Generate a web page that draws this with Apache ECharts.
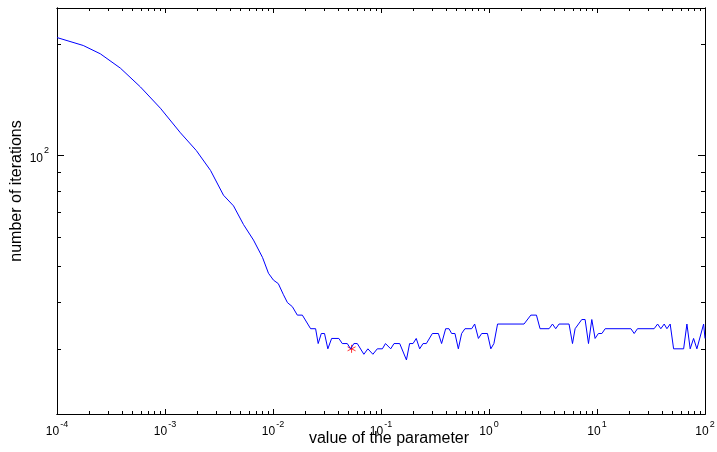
<!DOCTYPE html>
<html>
<head>
<meta charset="utf-8">
<script src="https://cdn.jsdelivr.net/npm/echarts@6/dist/echarts.min.js"></script>
<style>
  html, body { margin: 0; padding: 0; background: #fff; }
  #chart { width: 717px; height: 452px; }
</style>
</head>
<body>
<div id="chart"></div>
<script>
// parameter values (x) and iteration counts (y)
const paramValues = [
  1.00e-4, 1.75e-4, 2.52e-4, 3.86e-4, 5.92e-4, 9.07e-4, 1.39e-3, 1.95e-3, 2.64e-3, 3.48e-3,
  4.31e-3, 5.33e-3, 6.60e-3, 7.99e-3, 9.08e-3, 1.01e-2, 1.12e-2, 1.25e-2, 1.36e-2, 1.51e-2,
  1.68e-2, 1.87e-2, 2.23e-2, 2.48e-2, 2.62e-2, 2.80e-2, 3.00e-2, 3.22e-2, 3.49e-2, 4.07e-2,
  4.38e-2, 4.87e-2, 5.23e-2, 5.61e-2, 6.03e-2, 6.94e-2, 7.56e-2, 8.41e-2, 9.24e-2, 0.103,
  0.110, 0.123, 0.132, 0.149, 0.172, 0.184, 0.198, 0.212, 0.228, 0.245,
  0.263, 0.299, 0.340, 0.364, 0.397, 0.426, 0.451, 0.484, 0.520, 0.558,
  0.599, 0.691, 0.737, 0.798, 0.856, 0.967, 1.04, 1.11, 1.20, 2.11,
  2.44, 2.75, 2.97, 3.60, 3.87, 4.15, 4.45, 5.51, 5.93, 6.27,
  7.23, 7.76, 8.34, 8.95, 9.60, 10.3, 11.1, 11.9, 20.6, 22.1,
  23.7, 33.8, 36.4, 39.0, 41.9, 44.4, 47.6, 51.2, 63.4, 68.0,
  72.9, 78.4, 84.1, 97.1, 100
]
const iterations = [
  208, 198, 188, 172, 153, 134, 115, 103, 91, 78,
  73, 65, 59, 53, 48, 46, 45, 42, 40, 39,
  37, 37, 34, 34, 31, 33, 33, 30, 32, 32,
  31, 31, 30, 31, 31, 29, 30, 29, 30, 30,
  31, 30, 31, 31, 28, 31, 31, 32, 30, 31,
  31, 33, 33, 31, 34, 34, 33, 33, 30, 33,
  34, 34, 35, 32, 33, 33, 30, 31, 35, 35,
  37, 37, 34, 34, 35, 34, 35, 35, 31, 34,
  36, 36, 31, 36, 32, 33, 33, 34, 34, 33,
  34, 34, 35, 34, 35, 34, 35, 30, 30, 35,
  30, 32, 30, 35, 32
]
// the marked optimum
const bestParam = [0.0534]
const bestIterations = [30]

// ticks
const xMajorTicks = [1e-4, 1e-3, 1e-2, 1e-1, 1, 10, 100]
const yMajorTicks = [100]
const yMinorTicks = [30, 40, 50, 60, 70, 80, 90, 200]
const xMinorTicks = []
xMajorTicks.slice(0, -1).forEach(d => {
  for (let k = 2; k <= 9; k++) xMinorTicks.push(d * k)
})

const font = 'Liberation Sans, Arial, sans-serif'
const powLabel = {
  formatter: v => '{b|10}{e|' + Math.round(Math.log10(v)) + '}',
  rich: {
    b: { fontSize: 12, fontFamily: font, color: '#000', verticalAlign: 'bottom' },
    e: { fontSize: 9, fontFamily: font, color: '#000', verticalAlign: 'top', padding: [0, 0, 9, 1] }
  }
}

function makeX (position, ticks, len, withLabels) {
  return {
    type: 'log',
    logBase: 10,
    min: 1e-4,
    max: 100,
    position: position,
    axisLine: { show: true, onZero: false, lineStyle: { color: '#000', width: 1 } },
    axisTick: { show: true, inside: true, length: len, customValues: ticks, lineStyle: { color: '#000' } },
    axisLabel: Object.assign({ show: withLabels, margin: 6, customValues: xMajorTicks }, powLabel),
    splitLine: { show: false },
    minorTick: { show: false },
    name: withLabels ? 'value of the parameter' : '',
    nameLocation: 'middle',
    nameGap: 17,
    nameMoveOverlap: false,
    nameTextStyle: { fontSize: 16, fontFamily: font, color: '#000', padding: [0, 0, 0, 16] }
  }
}

function makeY (position, ticks, len, withLabels) {
  return {
    type: 'log',
    logBase: 10,
    min: 20,
    max: 250,
    position: position,
    axisLine: { show: true, onZero: false, lineStyle: { color: '#000', width: 1 } },
    axisTick: { show: true, inside: true, length: len, customValues: ticks, lineStyle: { color: '#000' } },
    axisLabel: Object.assign({ show: withLabels, margin: 8, customValues: yMajorTicks }, powLabel),
    splitLine: { show: false },
    minorTick: { show: false },
    name: withLabels ? 'number of iterations' : '',
    nameLocation: 'middle',
    nameRotate: 90,
    nameGap: 32,
    nameMoveOverlap: false,
    nameTextStyle: { fontSize: 16, fontFamily: font, color: '#000', padding: [0, 0, 0, 40] }
  }
}

const chart = echarts.init(document.getElementById('chart'))
chart.setOption({
  animation: false,
  backgroundColor: '#fff',
  grid: { left: 57, right: 12, top: 8, bottom: 38, containLabel: false, outerBoundsMode: 'none' },
  xAxis: [
    makeX('bottom', xMajorTicks, 5, true),
    makeX('top', xMajorTicks, 5, false),
    makeX('bottom', xMinorTicks, 3, false),
    makeX('top', xMinorTicks, 3, false)
  ],
  yAxis: [
    makeY('left', yMajorTicks, 7, true),
    makeY('right', yMajorTicks, 7, false),
    makeY('left', yMinorTicks, 4, false),
    makeY('right', yMinorTicks, 4, false)
  ],
  series: [
    {
      type: 'line',
      xAxisIndex: 0,
      yAxisIndex: 0,
      data: paramValues.map((x, i) => [x, iterations[i]]),
      showSymbol: false,
      lineStyle: { color: '#0000ff', width: 1 },
      itemStyle: { color: '#0000ff' }
    },
    {
      type: 'scatter',
      xAxisIndex: 0,
      yAxisIndex: 0,
      data: bestParam.map((x, i) => [x, bestIterations[i]]),
      symbol: 'path://M0,-5L0,5M-4.33,-2.5L4.33,2.5M-4.33,2.5L4.33,-2.5',
      symbolSize: 8,
      itemStyle: { color: 'none', borderColor: '#ff0000', borderWidth: 1 }
    }
  ]
})
</script>
</body>
</html>
